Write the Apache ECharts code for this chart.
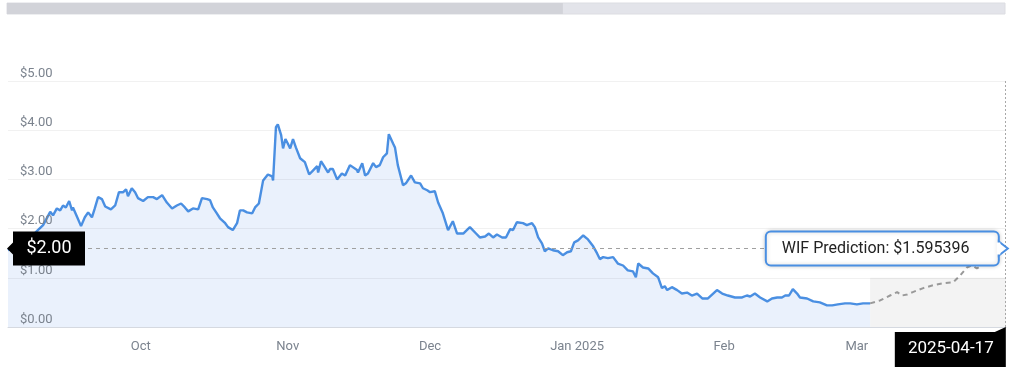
<!DOCTYPE html>
<html><head><meta charset="utf-8">
<script src="https://cdn.jsdelivr.net/npm/echarts@6/dist/echarts.min.js"></script>
<style>html,body{margin:0;padding:0;background:#fff}#c{width:1024px;height:373px}</style>
</head><body><div id="c"></div>
<script>
// ---- data (day offsets from startDate, prices in USD) ----
const startDate = '2024-09-03';
const histDays = [0, 2.5, 4.6, 6.3, 7.4, 8.9, 9.5, 10.3, 11.0, 11.6,
  12.2, 12.9, 13.5, 13.7, 14.6, 15.4, 16.2, 16.9, 17.7, 18.3,
  19.0, 19.8, 20.5, 20.9, 21.7, 22.6, 23.4, 24.3, 24.9, 25.3,
  26.1, 26.8, 27.4, 28.5, 29.5, 30.6, 31.4, 32.5, 33.5, 34.6,
  35.6, 36.5, 37.3, 38.0, 39.0, 40.1, 40.9, 42.0, 42.6, 43.2,
  43.9, 44.7, 45.8, 46.4, 47.4, 48.3, 48.9, 49.6, 50.4, 51.5,
  52.1, 52.9, 53.8, 54.8, 55.7, 55.9, 56.5, 56.9, 57.6, 58.0,
  58.5, 59.0, 59.5, 60.1, 60.7, 61.6, 62.6, 63.5, 64.3, 65.2,
  65.4, 66.0, 66.8, 67.5, 67.9, 68.5, 69.4, 70.4, 71.1, 72.1,
  73.6, 73.8, 74.7, 75.3, 75.9, 77.0, 77.6, 78.4, 79.1, 79.9,
  80.3, 81.2, 81.6, 82.2, 83.3, 83.9, 85.0, 85.8, 86.9, 87.5,
  88.4, 89.0, 90.0, 90.7, 91.7, 92.8, 93.8, 94.7, 96.0, 97.4,
  98.7, 99.5, 100.6, 101.4, 102.3, 103.1, 104.2, 105.0, 105.9, 106.5,
  107.3, 108.6, 109.4, 110.5, 111.1, 111.8, 112.6, 113.2, 113.9, 114.9,
  116.0, 117.0, 117.9, 118.7, 119.4, 120.2, 121.3, 122.3, 123.4, 124.2,
  124.8, 125.5, 126.5, 127.6, 128.6, 129.7, 130.7, 131.8, 132.4, 132.9,
  133.9, 135.0, 136.0, 137.1, 137.9, 138.5, 139.0, 140.0, 141.1, 142.1,
  143.2, 144.2, 145.3, 146.4, 147.6, 148.7, 149.5, 150.6, 151.8, 153.3,
  154.8, 155.8, 156.5, 157.5, 158.6, 160.1, 161.1, 162.2, 163.2, 163.9,
  164.7, 165.5, 166.4, 167.0, 168.5, 169.8, 171.2, 172.7, 173.8, 175.0,
  176.5, 177.6, 179.0, 180.3, 181.8];
const histPrices = [1.56, 1.70, 1.80, 1.97, 2.07, 2.34, 2.27, 2.41, 2.37, 2.47,
  2.43, 2.56, 2.37, 2.43, 2.23, 2.05, 2.23, 2.33, 2.23, 2.41,
  2.64, 2.60, 2.45, 2.49, 2.39, 2.47, 2.74, 2.74, 2.80, 2.66,
  2.82, 2.74, 2.62, 2.56, 2.64, 2.64, 2.60, 2.68, 2.53, 2.41,
  2.47, 2.51, 2.43, 2.35, 2.41, 2.39, 2.62, 2.60, 2.58, 2.43,
  2.33, 2.21, 2.11, 2.03, 1.97, 2.11, 2.37, 2.37, 2.33, 2.31,
  2.43, 2.51, 2.98, 3.10, 3.06, 2.98, 4.06, 4.12, 3.90, 3.63,
  3.82, 3.73, 3.63, 3.82, 3.65, 3.43, 3.35, 3.10, 3.18, 3.27,
  3.14, 3.37, 3.25, 3.14, 3.21, 3.21, 3.00, 3.12, 3.08, 3.29,
  3.19, 3.14, 3.33, 3.08, 3.12, 3.33, 3.25, 3.29, 3.45, 3.53,
  3.92, 3.73, 3.65, 3.29, 2.88, 2.92, 3.08, 2.94, 2.92, 2.82,
  2.78, 2.74, 2.76, 2.53, 2.31, 1.97, 2.15, 1.90, 1.90, 2.03,
  1.90, 1.82, 1.84, 1.90, 1.82, 1.88, 1.82, 1.82, 1.99, 1.97,
  2.13, 2.11, 2.07, 2.11, 2.03, 1.82, 1.70, 1.54, 1.60, 1.56,
  1.54, 1.46, 1.52, 1.54, 1.72, 1.76, 1.86, 1.78, 1.64, 1.50,
  1.38, 1.42, 1.40, 1.42, 1.29, 1.25, 1.15, 1.13, 1.01, 1.29,
  1.21, 1.19, 1.09, 1.01, 0.79, 0.83, 0.75, 0.81, 0.75, 0.68,
  0.70, 0.64, 0.68, 0.58, 0.58, 0.68, 0.75, 0.68, 0.64, 0.60,
  0.60, 0.64, 0.62, 0.68, 0.60, 0.52, 0.58, 0.60, 0.60, 0.64,
  0.64, 0.77, 0.68, 0.60, 0.58, 0.52, 0.50, 0.44, 0.44, 0.46,
  0.48, 0.48, 0.46, 0.48, 0.48];
const predDays = [181.8, 183.9, 186.0, 187.5, 188.5, 189.6, 190.8, 193.0, 195.1, 197.2,
  199.3, 200.8, 202.2, 203.3, 204.3, 205.4, 206.7, 208.6, 210.2];
const predPrices = [0.48, 0.54, 0.64, 0.71, 0.64, 0.66, 0.71, 0.79, 0.85, 0.89,
  0.91, 1.05, 1.21, 1.25, 1.19, 1.25, 1.40, 1.52, 1.595396];
const monthTicks = ['2024-10-01', '2024-11-01', '2024-12-01', '2025-01-01', '2025-02-01', '2025-03-01'];
const monthLabels = ['Oct', 'Nov', 'Dec', 'Jan 2025', 'Feb', 'Mar'];
const yMin = 0, yMax = 5, yStep = 1;
const axisEndDay = 210.45;
const shadedBandTop = 1;
const seriesName = 'WIF Prediction';
const pointerDateLabel = '2025-04-17';
const pointerPriceLabel = '$2.00';
const progressShare = 0.557;

// ---- build ----
const DAY = 86400000;
const t0 = Date.parse(startDate + 'T00:00:00Z');
const toT = d => t0 + d * DAY;
const hist = histDays.map((d, i) => [toT(d), histPrices[i]]);
const pred = predDays.map((d, i) => [toT(d), predPrices[i]]);
const tickTimes = monthTicks.map(s => Date.parse(s + 'T00:00:00Z'));
const lastT = toT(predDays[predDays.length - 1]);
const lastP = predPrices[predPrices.length - 1];

const FONT = 'Roboto, "Noto Sans", sans-serif';
const AX = '#7b838e';
const chart = echarts.init(document.getElementById('c'), null, {renderer: 'canvas'});
chart.setOption({
  animation: false,
  grid: {left: 8, right: 18, top: 81, bottom: 46},
  xAxis: {
    type: 'value', min: t0, max: toT(axisEndDay), scale: true, z: 6,
    axisLine: {show: true, lineStyle: {color: '#d5d9e0', width: 1}},
    axisTick: {show: false},
    splitLine: {show: false},
    axisLabel: {
      customValues: tickTimes,
      color: AX, fontSize: 13, fontFamily: FONT, margin: 13, hideOverlap: false,
      formatter: v => {
        let best = 0;
        tickTimes.forEach((t, i) => { if (Math.abs(t - v) < Math.abs(tickTimes[best] - v)) best = i; });
        return monthLabels[best];
      }
    }
  },
  yAxis: {
    type: 'value', min: yMin, max: yMax, interval: yStep, z: 5,
    axisLine: {show: false}, axisTick: {show: false},
    splitLine: {lineStyle: {color: 'rgba(0,0,0,0.055)', width: 1}},
    axisLabel: {
      inside: true, margin: 12, verticalAlign: 'bottom', padding: [0, 0, 1, 0],
      color: AX, fontSize: 13, fontFamily: FONT, showMinLabel: true, showMaxLabel: true,
      formatter: v => '$' + v.toFixed(2)
    }
  },
  series: [
    {
      type: 'line', data: [], z: 1, silent: true,
      markArea: {
        silent: true,
        itemStyle: {color: '#f3f3f3'},
        data: [[{xAxis: toT(histDays[histDays.length - 1]), yAxis: yMin}, {xAxis: toT(axisEndDay), yAxis: shadedBandTop}]]
      }
    },
    {
      name: 'WIF', type: 'line', data: hist, z: 3, showSymbol: false, symbol: 'none',
      lineStyle: {color: '#4a8fe2', width: 2.4},
      areaStyle: {color: '#eaf1fc', opacity: 1}
    },
    {
      name: seriesName, type: 'line', data: pred, z: 3, showSymbol: false, symbol: 'none',
      lineStyle: {color: '#999999', width: 2, type: [5, 4]},
      markLine: {
        silent: true, symbol: ['none', 'none'], label: {show: false},
        data: [
          {yAxis: lastP, lineStyle: {color: '#a0a0a0', width: 1, type: [4, 4]}},
          {xAxis: lastT, lineStyle: {color: '#a8a8a8', width: 1, type: [2, 2]}}
        ]
      }
    }
  ]
});

const P = chart.convertToPixel({gridIndex: 0}, [lastT, lastP]);
const O = chart.convertToPixel({gridIndex: 0}, [t0, yMin]);
const E = chart.convertToPixel({gridIndex: 0}, [toT(axisEndDay), yMin]);
const px = P[0], py = P[1], gx = O[0], gy = O[1];
const barW = E[0] - gx;

chart.setOption({
  graphic: [
    // top range bar
    {type: 'rect', shape: {x: gx - 1, y: 3, width: barW, height: 11}, style: {fill: '#e3e4ea', stroke: '#dcdde2', lineWidth: 1}, z: 10},
    {type: 'rect', shape: {x: gx - 1, y: 3, width: barW * progressShare, height: 11}, style: {fill: '#d2d3d9'}, z: 11},
    // left price label
    {type: 'polygon', z: 20, shape: {points: [[gx - 1, py], [gx + 5, py - 6], [gx + 5, py - 17], [gx + 77, py - 17], [gx + 77, py + 17], [gx + 5, py + 17], [gx + 5, py + 6]]}, style: {fill: '#000'}},
    {type: 'text', z: 21, style: {text: pointerPriceLabel, x: gx + 41, y: py, fill: '#fff', fontSize: 18, fontFamily: FONT, align: 'center', verticalAlign: 'middle'}},
    // tooltip
    {type: 'rect', z: 20, shape: {x: px - 239, y: py - 17, width: 233, height: 34, r: 5}, style: {fill: '#fff', stroke: '#4a8fe2', lineWidth: 2, shadowBlur: 4, shadowColor: 'rgba(0,0,0,0.18)'}},
    {type: 'polygon', z: 21, shape: {points: [[px - 6, py - 7], [px + 3, py], [px - 6, py + 7]]}, style: {fill: '#fff', stroke: '#4a8fe2', lineWidth: 2}},
    {type: 'rect', z: 22, shape: {x: px - 8, y: py - 6, width: 3.5, height: 12}, style: {fill: '#fff'}},
    {type: 'text', z: 23, style: {text: seriesName + ': $' + lastP, x: px - 223, y: py + 0.5, fill: '#222', fontSize: 16, fontFamily: FONT, align: 'left', verticalAlign: 'middle'}},
    // bottom date label
    {type: 'polygon', z: 20, shape: {points: [[px - 110, gy + 5], [px - 10, gy + 5], [px + 1, gy], [px + 1, gy + 40], [px - 110, gy + 40]]}, style: {fill: '#000'}},
    {type: 'text', z: 21, style: {text: pointerDateLabel, x: px - 54, y: gy + 22, fill: '#fff', fontSize: 17, fontFamily: FONT, align: 'center', verticalAlign: 'middle'}}
  ]
});
</script>
</body></html>
